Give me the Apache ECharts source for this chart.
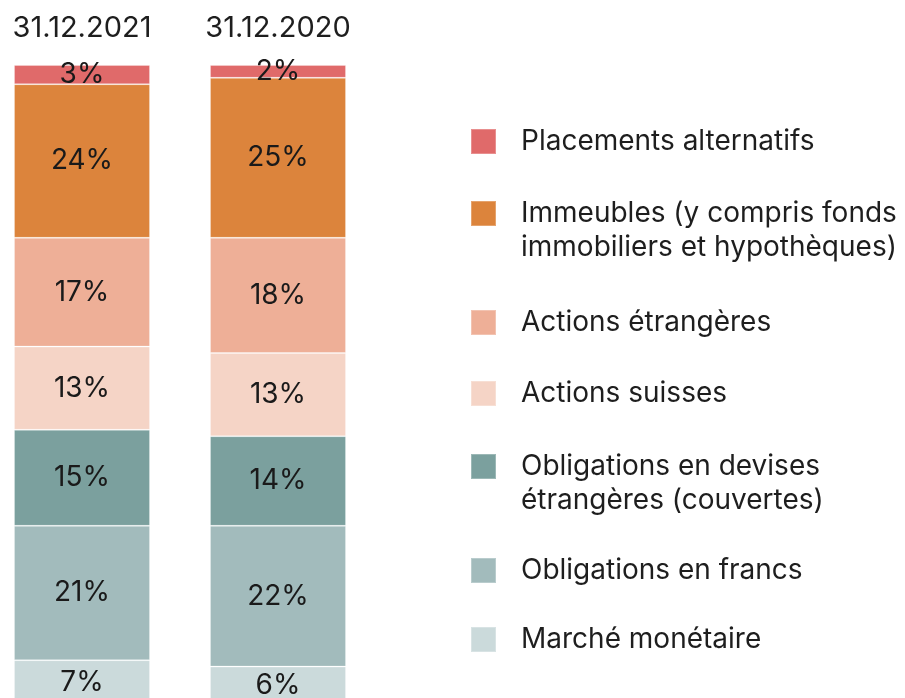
<!DOCTYPE html>
<html>
<head>
<meta charset="utf-8">
<script src="https://cdn.jsdelivr.net/npm/echarts@6/dist/echarts.min.js"></script>
<style>
  html, body { margin: 0; padding: 0; background: #fff; }
  #chart { width: 905px; height: 698px; }
</style>
</head>
<body>
<div id="chart"></div>
<script>
// dates en tête des colonnes
const categories = ['31.12.2021', '31.12.2020']

// parts en % (de haut en bas dans la colonne)
const placements = [3, 2]
const immeubles = [24, 25]
const actionsEtrangeres = [17, 18]
const actionsSuisses = [13, 13]
const obligationsDevises = [15, 14]
const obligationsFrancs = [21, 22]
const marcheMonetaire = [7, 6]

const seriesNames = [
    'Placements alternatifs',
    'Immeubles (y compris fonds\nimmobiliers et hypothèques)',
    'Actions étrangères',
    'Actions suisses',
    'Obligations en devises\nétrangères (couvertes)',
    'Obligations en francs',
    'Marché monétaire'
]
const seriesValues = [placements, immeubles, actionsEtrangeres, actionsSuisses, obligationsDevises, obligationsFrancs, marcheMonetaire]
const colors = ['#e06a6a', '#dc843c', '#eeaf97', '#f5d4c6', '#7ba09e', '#a2bbbc', '#cbdadb']

// position verticale du carré de légende (haut du carré)
const legendIconTop = [128, 198, 309, 380, 451, 557, 626]

const FONT = 'Inter, "Noto Sans", sans-serif'
const LH = 34

const chart = echarts.init(document.getElementById('chart'))

const legends = seriesNames.map((name, i) => {
    const multi = name.indexOf('\n') >= 0
    // ligne vide en tête : le carré reste aligné sur la première ligne
    const offset = multi ? 12.5 - 1.5 * LH + 6 : 12.5 - LH / 2 + 4
    return {
        data: [name],
        left: 470,
        top: legendIconTop[i] + offset,
        padding: 0,
        icon: 'rect',
        itemWidth: 25,
        itemHeight: 25,
        selectedMode: false,
        formatter: (n) => {
            const lines = n.split('\n').map(l => '{t|' + l + '}')
            if (lines.length > 1) lines.unshift('{t|\u00a0}')
            return lines.join('\n')
        },
        textStyle: {
            rich: {
                t: {
                    fontFamily: FONT,
                    fontSize: 28,
                    lineHeight: LH,
                    color: '#1e1e1e',
                    padding: [0, 0, 0, 20]
                }
            }
        }
    }
})

chart.setOption({
    animation: false,
    legend: legends,
    grid: { left: -16, width: 392, top: 65, height: 640, outerBoundsMode: 'none' },
    xAxis: {
        type: 'category',
        data: categories,
        position: 'top',
        axisLine: { show: false },
        axisTick: { show: false },
        axisLabel: {
            fontFamily: FONT,
            fontSize: 29,
            color: '#1e1e1e',
            margin: 22
        }
    },
    yAxis: { type: 'value', min: 0, max: 100, inverse: true, show: false },
    series: seriesNames.map((name, i) => ({
        name: name,
        type: 'bar',
        stack: 'total',
        barWidth: 136,
        data: seriesValues[i],
        itemStyle: {
            color: colors[i],
            borderColor: 'rgba(255,255,255,0.25)',
            borderWidth: 1
        },
        label: {
            show: true,
            position: 'inside',
            formatter: '{c}%',
            fontFamily: FONT,
            fontSize: 28,
            color: '#1a1a1a'
        }
    }))
})
</script>
</body>
</html>
